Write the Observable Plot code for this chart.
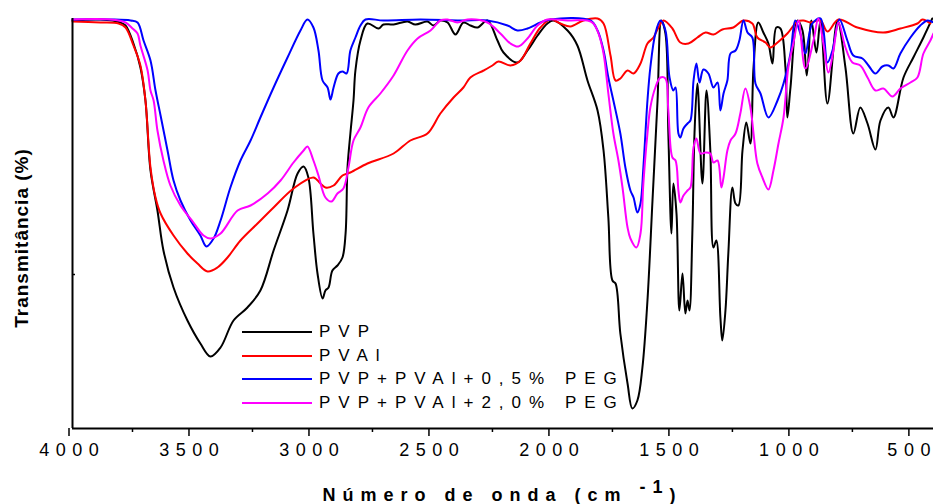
<!DOCTYPE html>
<html>
<head>
<meta charset="utf-8">
<script src="https://cdn.jsdelivr.net/npm/d3@7"></script>
<script src="https://cdn.jsdelivr.net/npm/@observablehq/plot@0.6"></script>
<style>
  body { margin: 0; background: #fff; }
  #wrap { position: relative; width: 933px; height: 504px; overflow: hidden; font-family: "Liberation Sans", Arial, sans-serif; color: #000; }
  #chart { position: absolute; left: 0; top: 0; }
  #xt { position: absolute; left: 72px; width: 861px; top: 485px; line-height: 20px; text-align: center; font-weight: bold; font-size: 18px; letter-spacing: 7px; }
  #xt sup { font-size: 18px; vertical-align: baseline; position: relative; top: -8px; }
  #yt { position: absolute; left: -128px; top: 226px; width: 300px; height: 24px; line-height: 24px; text-align: center; font-weight: bold; font-size: 19px; letter-spacing: 1px; transform: rotate(-90deg); }
  .row { position: absolute; left: 242px; height: 24px; line-height: 24px; white-space: nowrap; font-size: 17px; letter-spacing: 8px; }
  .sw { position: absolute; left: 0; top: 11px; width: 70px; height: 2px; }
  .lt { position: absolute; left: 77px; top: 0; }
</style>
</head>
<body>
<div id="wrap">
  <div id="chart"></div>
  <div id="yt">Transmitância (%)</div>
  <div id="xt">Número de onda (cm <sup>-1</sup>)</div>
  <div id="legend"></div>
</div>
<script>
// Series: [wavenumber (cm-1), transmittance (arb. %)]
const seriesNames = ["PVP", "PVAl", "PVP+PVAl+0,5% PEG", "PVP+PVAl+2,0% PEG"];
const seriesColors = ["#000000", "#ff0000", "#0000ff", "#ff00ff"];

const pvp = [[4000,40.8],[3883,40.9],[3800,40.6],[3779,40.3],[3746,38.5],[3717,36.1],[3696,32.8],[3675,25.8],[3646,21.8],[3621,17.8],[3579,14.1],[3521,10.8],[3467,8.5],[3425,7.2],[3383,8.1],[3329,10.8],[3271,12.1],[3217,13.8],[3162,17.8],[3104,21.8],[3062,25.5],[3037,26.2],[3017,25.1],[2996,19.5],[2979,15.5],[2958,13.0],[2946,13.8],[2933,14.1],[2917,15.8],[2896,16.3],[2875,17.1],[2862,19.5],[2854,26.1],[2842,29.5],[2829,32.8],[2821,35.8],[2800,38.8],[2771,40.5],[2725,40.0],[2704,40.4],[2662,40.4],[2604,40.7],[2571,40.4],[2521,40.7],[2496,40.3],[2467,40.8],[2437,40.6],[2404,39.4],[2371,40.6],[2342,40.3],[2312,40.1],[2271,40.8],[2229,38.8],[2204,37.6],[2146,36.6],[2104,37.8],[2062,39.3],[2021,40.5],[1996,40.8],[1937,39.8],[1896,38.3],[1854,34.8],[1812,31.8],[1787,27.8],[1767,21.1],[1750,14.8],[1737,14.5],[1717,9.5],[1687,4.5],[1667,2.0],[1646,2.8],[1625,6.1],[1604,12.8],[1583,22.8],[1562,32.8],[1546,40.8],[1529,39.5],[1517,29.5],[1504,19.5],[1496,24.5],[1483,21.5],[1471,11.8],[1458,15.5],[1446,11.5],[1437,12.8],[1429,11.8],[1417,19.5],[1408,29.5],[1396,34.5],[1375,24.5],[1358,33.8],[1342,27.8],[1329,18.1],[1317,18.8],[1300,11.1],[1292,8.8],[1279,11.8],[1267,17.5],[1250,24.1],[1237,22.5],[1225,22.3],[1208,27.8],[1192,30.6],[1175,28.5],[1162,36.1],[1142,40.6],[1121,39.6],[1100,38.5],[1083,36.5],[1067,40.1],[1050,40.0],[1029,36.1],[1021,31.1],[1008,34.1],[979,40.8],[958,39.8],[940,35.3],[921,40.8],[900,37.6],[883,40.8],[854,32.5],[812,40.8],[779,36.1],[746,29.5],[717,32.1],[687,30.5],[654,27.9],[633,30.8],[600,32.1],[579,31.1],[537,35.1],[496,37.1],[454,39.1],[417,41.0]];

const pval = [[4000,40.7],[3883,40.6],[3808,40.5],[3779,40.1],[3746,38.3],[3717,36.3],[3696,32.8],[3675,26.1],[3654,23.1],[3633,21.5],[3579,19.3],[3521,17.5],[3479,16.5],[3437,15.7],[3396,16.1],[3354,17.1],[3300,18.8],[3229,20.5],[3162,22.1],[3079,24.0],[2996,25.1],[2967,24.5],[2946,24.1],[2912,24.3],[2875,25.3],[2842,25.6],[2771,26.5],[2662,27.5],[2592,28.8],[2521,29.5],[2467,31.5],[2412,33.1],[2371,34.1],[2342,35.1],[2287,35.8],[2250,36.3],[2225,36.7],[2175,36.3],[2133,36.8],[2092,38.5],[2050,40.1],[2008,40.9],[1967,40.5],[1925,40.2],[1871,40.8],[1812,41.0],[1787,40.5],[1758,37.3],[1737,34.8],[1717,35.0],[1687,35.8],[1662,35.5],[1633,36.5],[1604,38.5],[1579,39.1],[1558,40.1],[1537,40.8],[1500,40.0],[1467,38.6],[1433,38.5],[1396,39.1],[1362,39.6],[1329,39.4],[1292,39.9],[1246,40.1],[1204,40.8],[1167,40.5],[1146,39.1],[1112,38.6],[1092,38.1],[1062,38.6],[1021,39.5],[979,40.7],[954,40.8],[925,40.6],[883,40.8],[854,39.7],[808,40.9],[729,40.1],[621,39.6],[550,40.0],[479,40.5],[458,40.9],[425,40.5]];

const peg05 = [[4000,40.9],[3842,40.9],[3758,40.8],[3729,40.6],[3704,38.8],[3675,36.8],[3654,33.8],[3633,31.3],[3604,27.8],[3579,24.8],[3550,22.8],[3508,20.8],[3467,19.3],[3442,18.2],[3412,19.0],[3383,20.8],[3342,24.1],[3300,26.8],[3258,28.8],[3217,31.1],[3162,34.1],[3104,37.1],[3050,39.8],[3021,40.9],[2996,40.1],[2975,37.8],[2958,34.8],[2937,34.1],[2925,32.9],[2912,34.1],[2892,35.5],[2875,35.7],[2858,35.5],[2842,37.8],[2821,39.1],[2800,40.3],[2779,40.9],[2704,40.8],[2550,40.9],[2383,40.8],[2271,40.8],[2187,40.3],[2146,39.8],[2104,40.0],[2050,40.6],[2008,40.9],[1842,40.8],[1812,39.8],[1787,37.8],[1767,35.1],[1746,32.8],[1717,29.5],[1696,26.1],[1675,23.8],[1662,23.1],[1646,21.6],[1633,22.5],[1621,26.1],[1604,32.8],[1592,36.1],[1571,39.5],[1550,40.8],[1529,39.8],[1512,35.1],[1496,33.8],[1487,34.1],[1475,29.5],[1467,29.1],[1454,30.0],[1437,30.5],[1425,30.8],[1412,34.8],[1400,36.5],[1387,34.6],[1371,35.9],[1350,35.5],[1329,34.1],[1312,34.6],[1300,31.8],[1287,33.5],[1271,34.8],[1258,37.5],[1237,37.8],[1221,38.8],[1204,40.8],[1187,39.6],[1167,39.1],[1154,34.5],[1133,33.5],[1100,31.1],[1062,32.8],[1037,34.5],[1008,37.5],[988,40.8],[967,39.5],[946,37.5],[917,40.5],[883,41.0],[854,36.6],[833,37.8],[804,40.9],[771,38.8],[746,37.3],[708,37.0],[683,36.3],[654,35.5],[625,36.2],[600,36.3],[579,36.0],[550,37.5],[508,39.1],[467,40.3],[437,40.8],[412,40.6]];

const peg20 = [[4000,40.9],[3842,40.9],[3779,40.6],[3750,40.0],[3729,39.5],[3717,38.3],[3687,35.8],[3675,33.8],[3662,32.8],[3646,29.8],[3621,26.8],[3592,24.3],[3550,22.3],[3496,20.6],[3454,19.3],[3425,19.0],[3383,19.5],[3312,21.8],[3258,22.3],[3187,23.5],[3133,24.8],[3079,26.6],[3037,27.8],[3021,28.2],[2996,26.8],[2975,25.3],[2946,23.1],[2921,22.7],[2896,23.5],[2871,24.0],[2850,26.1],[2829,28.8],[2800,30.1],[2767,32.1],[2717,33.5],[2662,35.3],[2604,37.8],[2562,39.0],[2508,39.8],[2467,40.8],[2437,40.9],[2396,40.6],[2354,40.9],[2271,40.6],[2217,39.5],[2175,38.5],[2142,38.2],[2104,39.0],[2062,40.3],[2021,40.9],[1937,40.8],[1854,40.8],[1829,40.5],[1808,39.5],[1787,37.5],[1767,33.5],[1746,29.5],[1725,26.8],[1708,24.1],[1687,20.1],[1675,19.0],[1650,18.1],[1633,19.5],[1621,24.5],[1604,29.5],[1592,32.1],[1571,34.1],[1550,35.1],[1529,35.0],[1517,31.8],[1500,27.1],[1487,26.8],[1475,23.8],[1467,22.6],[1454,23.3],[1437,23.8],[1425,24.1],[1412,28.1],[1400,29.0],[1383,27.5],[1362,27.6],[1342,27.5],[1329,26.6],[1312,26.8],[1296,24.1],[1287,25.1],[1271,27.8],[1258,28.8],[1237,29.5],[1217,31.5],[1196,34.0],[1175,32.1],[1162,29.5],[1146,26.5],[1125,25.1],[1100,23.9],[1079,25.8],[1058,28.5],[1037,31.1],[1017,36.1],[996,38.5],[975,40.8],[946,36.0],[912,38.8],[892,41.0],[871,38.5],[850,35.6],[829,37.8],[808,40.6],[779,38.1],[750,36.6],[717,36.3],[687,35.1],[654,33.8],[621,34.0],[583,33.2],[550,34.0],[508,34.6],[479,35.1],[454,37.5],[425,38.8],[412,39.5]];

const xMajorTicks = [4000, 3500, 3000, 2500, 2000, 1500, 1000, 500];
const xMinorTicks = [3750, 3250, 2750, 2250, 1750, 1250, 750];
const yTicks = [15.4];
const xDomain = [4000, 412];
const yDomain = [0, 41];

const allSeries = [pvp, pval, peg05, peg20];
const rows = allSeries.flatMap((s, i) => s.map(([wn, t]) => ({wn, t, name: seriesNames[i]})));

const chart = Plot.plot({
  width: 933,
  height: 504,
  marginLeft: 72,
  marginRight: 0,
  marginTop: 18,
  marginBottom: 76,
  style: "background:#fff; font-family:'Liberation Sans', Arial, sans-serif; letter-spacing:6.5px; color:#000;",
  x: {domain: xDomain},
  y: {domain: yDomain},
  marks: [
    Plot.axisX({ticks: xMajorTicks, tickSize: 8, tickPadding: 7, fontSize: 18, dx: -3.5, tickFormat: d => String(d), label: null, strokeWidth: 1.5}),
    Plot.axisX({ticks: xMinorTicks, tickSize: 4, tickFormat: () => "", label: null, strokeWidth: 1.5}),
    Plot.axisY({ticks: yTicks, tickSize: 3, dx: 3, tickFormat: () => "", label: null, strokeWidth: 1.5}),
    ...allSeries.map((s, i) => Plot.line(rows.filter(r => r.name === seriesNames[i]), {
      x: "wn", y: "t", stroke: seriesColors[i], strokeWidth: 2, curve: "catmull-rom"
    })),
    Plot.ruleY([yDomain[0]], {strokeWidth: 2}),
    Plot.ruleX([xDomain[0]], {strokeWidth: 2})
  ]
});
document.getElementById("chart").appendChild(chart);

// remove trailing letter-spacing from the last character of each tick label
chart.querySelectorAll('g[aria-label="x-axis tick label"] text').forEach(t => {
  const s = t.textContent;
  if (!s) return;
  t.textContent = s.slice(0, -1);
  const ts = document.createElementNS("http://www.w3.org/2000/svg", "tspan");
  ts.setAttribute("style", "letter-spacing:0");
  ts.textContent = s.slice(-1);
  t.appendChild(ts);
});

const legend = document.getElementById("legend");
const rowTops = [320, 344, 367, 391];
seriesNames.forEach((n, i) => {
  const row = document.createElement("div");
  row.className = "row";
  row.style.top = rowTops[i] + "px";
  const sw = document.createElement("div");
  sw.className = "sw";
  sw.style.background = seriesColors[i];
  row.appendChild(sw);
  const lt = document.createElement("div");
  lt.className = "lt";
  lt.textContent = n;
  row.appendChild(lt);
  legend.appendChild(row);
});
</script>
</body>
</html>
